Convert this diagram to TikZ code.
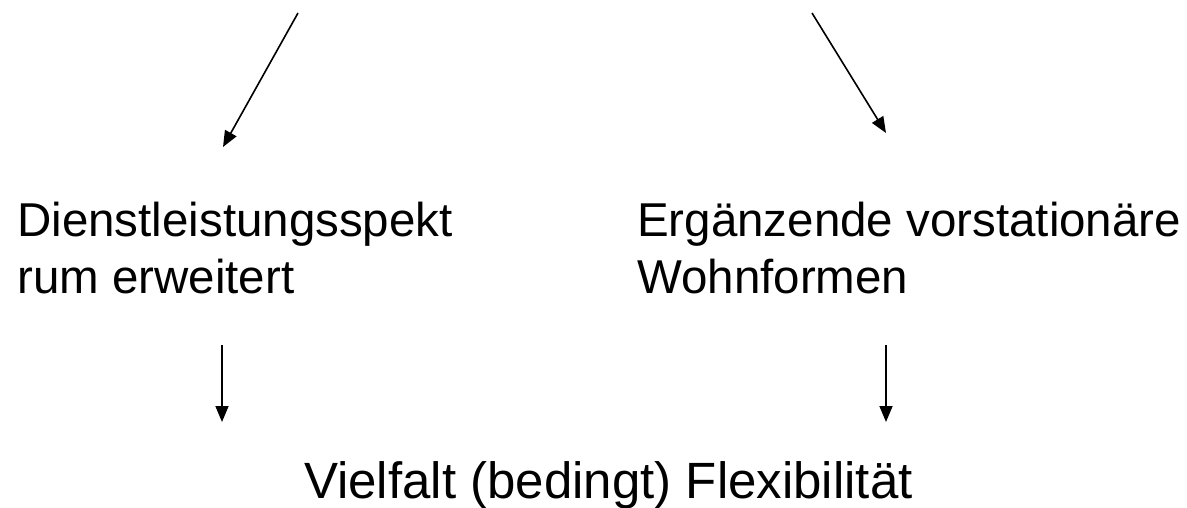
\documentclass[tikz,border=0pt]{standalone}
\usepackage{fontspec}
\setmainfont{Liberation Sans}
\usetikzlibrary{arrows.meta}
\begin{document}
\begin{tikzpicture}[x=1pt,y=-1pt,
  lbl/.style={inner sep=0pt,align=left,font=\fontsize{47.5}{57}\selectfont},
  big/.style={inner sep=0pt,font=\fontsize{51}{60}\selectfont},
  arr/.style={line width=1.6pt,-{Triangle[length=16pt,width=13pt]}}]
\useasboundingbox (0,0) rectangle (1187,508);
\node[lbl,anchor=base west] (dl) at (17,293) {Dienstleistungsspekt\\rum erweitert};
\node[lbl,anchor=base west] (ev) at (637,293) {Ergänzende vorstationäre\\Wohnformen};
\node[big,anchor=base west] (vf) at (304,498) {Vielfalt (bedingt) Flexibilität};
\coordinate (s1) at (298,13);
\coordinate (t1) at (223,147);
\coordinate (s2) at (812,13);
\coordinate (t2) at (886,133);
\coordinate (s3) at (222,345);
\coordinate (t3) at (222,422);
\coordinate (s4) at (886,345);
\coordinate (t4) at (886,422);
\draw[arr] (s1) -- (t1);
\draw[arr] (s2) -- (t2);
\draw[arr] (s3) -- (t3);
\draw[arr] (s4) -- (t4);
\end{tikzpicture}
\end{document}
